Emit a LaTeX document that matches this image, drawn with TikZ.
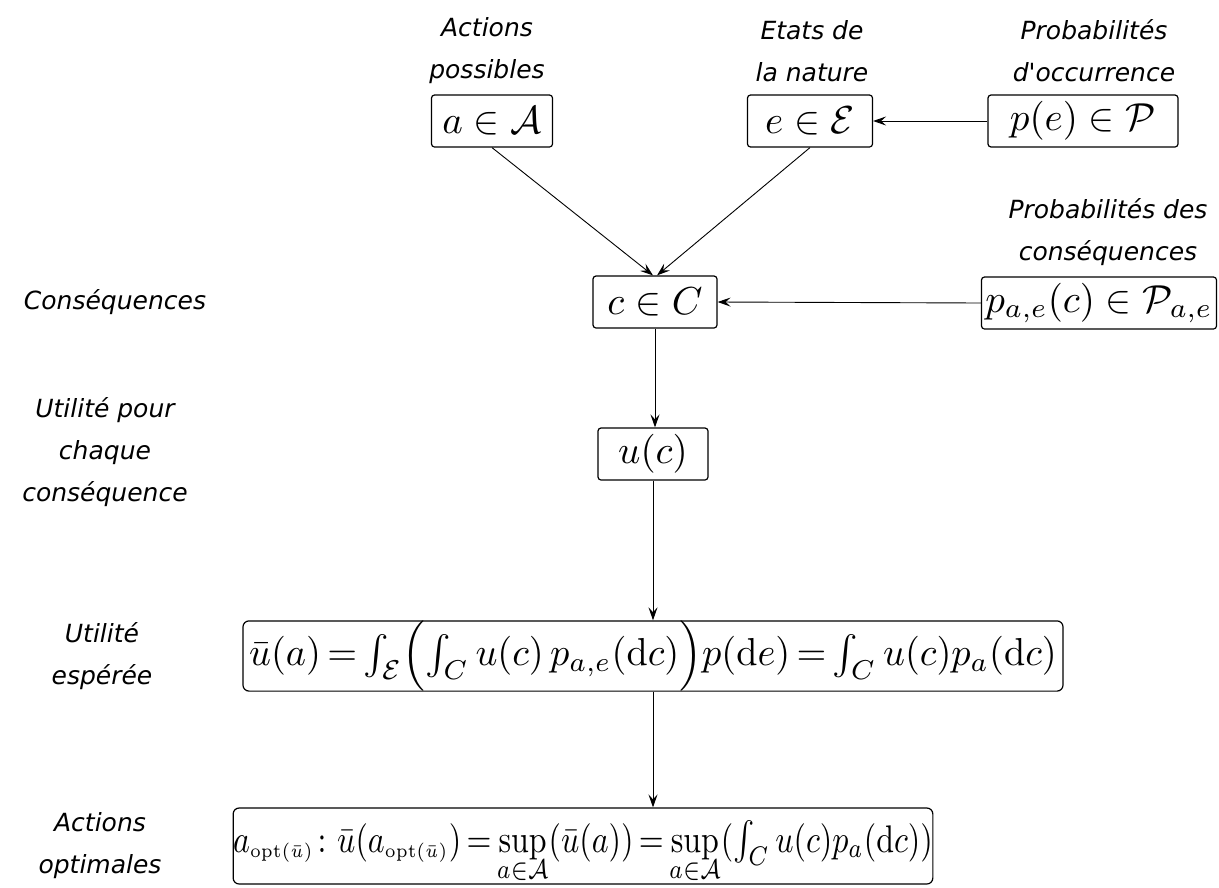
\documentclass[tikz,border=0pt]{standalone}
\usepackage{amsmath}
\usepackage{graphicx}
\usepackage[no-math]{fontspec}
\newfontfamily\lblfont{DejaVu Sans}
\newcommand\bigmath[1]{\scalebox{3.9}{$#1$}}
\newcommand\widemath[3]{\scalebox{#1}[#2]{$\thickmuskip=3mu\medmuskip=2mu #3$}}
\newcommand\supop[1]{\mathop{\vtop{\offinterlineskip\halign{\hfil##\hfil\cr$\mathrm{sup}$\cr\noalign{\kern0.2pt}$\scriptstyle #1$\cr}}}}
\usetikzlibrary{arrows.meta}
\begin{document}
\begin{tikzpicture}[x=1pt,y=-1pt,
  lbl/.style={font=\lblfont\itshape\fontsize{25}{42}\selectfont, align=center, inner sep=0pt},
  mbox/.style={draw, line width=1.2pt, rounded corners=3pt, inner sep=0pt, minimum height=52pt},
  arr/.style={line width=0.9pt, -{Stealth[length=13pt,width=9pt,inset=5pt]}}
]
\useasboundingbox (0,0) rectangle (1219,887);

% labels
\node[lbl] (lA) at (487,51) {Actions\\possibles};
\node[lbl] (lE) at (812,51) {Etats de\\la nature};
\node[lbl] (lP) at (1094,51) {Probabilités\\d'occurrence};
\node[lbl] (lPae) at (1108,232) {Probabilités des\\conséquences};
\node[lbl] (lC) at (115,302) {Conséquences};
\node[lbl] (lU) at (105,452) {Utilité pour\\chaque\\conséquence};
\node[lbl] (lUb) at (102,656) {Utilité\\espérée};
\node[lbl] (lOpt) at (100,846) {Actions\\optimales};

% boxes
\node[mbox, minimum width=121pt] (aBox) at (492,121) {\bigmath{a\in\mathcal{A}}};
\node[mbox, minimum width=125pt] (eBox) at (810,121) {\bigmath{e\in\mathcal{E}}};
\node[mbox, minimum width=190pt] (pBox) at (1083,121) {\bigmath{p(e)\in\mathcal{P}}};
\node[mbox, minimum width=124pt] (cBox) at (655,302) {\bigmath{c\in C}};
\node[mbox, minimum width=235pt] (paeBox) at (1099,303) {\bigmath{p_{a,e}(c)\in\mathcal{P}_{a,e}}};
\node[mbox, minimum width=110pt] (uBox) at (653,454) {\bigmath{u(c)}};
\node[mbox, minimum width=820pt, minimum height=63pt, rounded corners=6pt] (ubBox) at (653,656)
  {\widemath{3.83}{3.9}{\bar{u}(a)=\textstyle\int_{\mathcal{E}}\Bigl(\int_{C}u(c)\;p_{a,e}(\mathrm{d}c)\Bigr)p(\mathrm{d}e)=\int_{C}u(c)p_{a}(\mathrm{d}c)}};
\node[mbox, minimum width=693pt, text height=44pt, text depth=32pt, rounded corners=6pt] (optBox) at (583,846)
  {\widemath{3.2}{3.85}{a_{\scriptscriptstyle\mathrm{opt}(\bar{u})}\colon\bar{u}(a_{\scriptscriptstyle\mathrm{opt}(\bar{u})})=\supop{a\in\mathcal{A}}(\bar{u}(a))=\supop{a\in\mathcal{A}}(\textstyle\int_{C}u(c)p_{a}(\mathrm{d}c))}};

% connectors
\draw[arr] (aBox.south) -- ([xshift=-2pt]cBox.north);
\draw[arr] (eBox.south) -- ([xshift=2pt]cBox.north);
\draw[arr] (pBox.west) -- (eBox.east);
\draw[arr] (paeBox.west) -- (cBox.east);
\draw[arr] (cBox.south) -- (cBox.south |- uBox.north);
\draw[arr] (uBox.south) -- (uBox.south |- ubBox.north);
\draw[arr] (uBox.south |- ubBox.south) -- (uBox.south |- optBox.north);
\end{tikzpicture}
\end{document}
